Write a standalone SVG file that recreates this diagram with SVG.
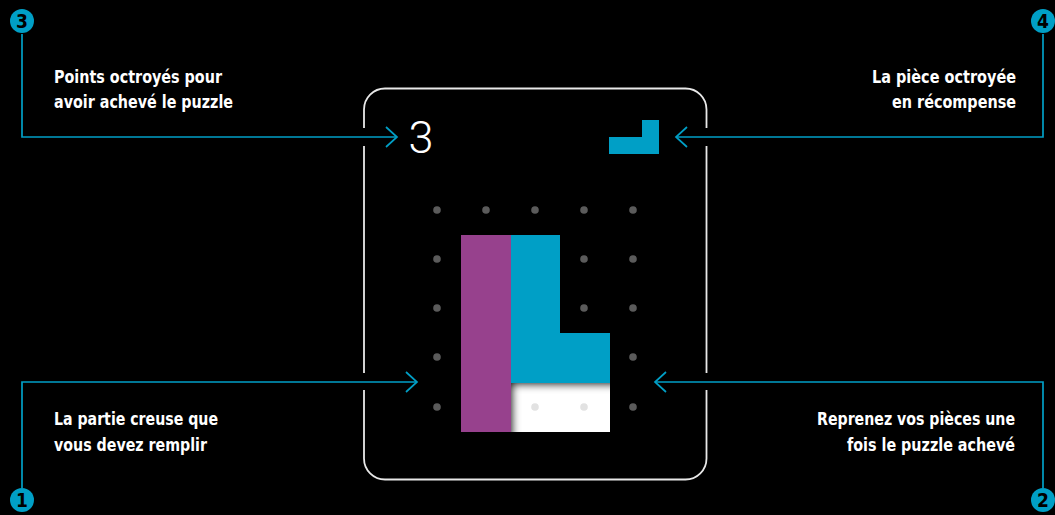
<svg xmlns="http://www.w3.org/2000/svg" width="1055" height="515" viewBox="0 0 1055 515">
  <defs>
    <style>
      .lbl { font-family: "DejaVu Sans Condensed", "DejaVu Sans", "Liberation Sans", sans-serif; font-weight: bold; font-stretch: condensed; font-size: 17.5px; fill: #ffffff; }
      .lead { fill: none; stroke: #009fc6; stroke-width: 1.7; }
      .num { font-family: "DejaVu Sans Condensed", "DejaVu Sans", sans-serif; font-weight: bold; font-size: 19px; fill: #000000; text-anchor: middle; }
      .badge { fill: #009fc6; }
      .dot { fill: #5b5b5b; }
      .ldot { fill: #e2e2e2; }
      .gap { fill: #000000; }
    </style>
    <marker id="chev" viewBox="-13 -12 15 24" refX="0" refY="0" markerWidth="15" markerHeight="24" orient="auto" markerUnits="userSpaceOnUse">
      <path d="M-11,-10 L0,0 L-11,10" fill="none" stroke="#009fc6" stroke-width="1.7"/>
    </marker>
    <clipPath id="holeClip">
      <rect x="511" y="383" width="99" height="49"/>
    </clipPath>
    <filter id="blur" x="-20%" y="-20%" width="140%" height="140%">
      <feGaussianBlur stdDeviation="4"/>
    </filter>
  </defs>

  <rect width="1055" height="515" fill="#000000"/>

  <g id="card">
    <rect x="364" y="88.5" width="342.5" height="391" rx="21" ry="21" fill="none" stroke="#e8e8e8" stroke-width="1.8"/>
    <rect class="gap" x="360" y="128" width="8" height="18"/>
    <rect class="gap" x="703" y="128" width="8" height="18"/>
    <rect class="gap" x="360" y="373" width="8" height="17"/>
    <rect class="gap" x="703" y="373" width="8" height="17"/>
    <text x="421" y="153" font-family="Roboto, 'Open Sans', sans-serif" font-weight="300" font-size="45" fill="#ffffff" text-anchor="middle">3</text>
  </g>

  <g id="reward-piece">
    <polygon points="642,120 659,120 659,154 609,154 609,137 642,137" fill="#009fc6"/>
  </g>

  <g id="grid">
    <circle class="dot" cx="437" cy="210" r="3.8"/>
    <circle class="dot" cx="486" cy="210" r="3.8"/>
    <circle class="dot" cx="535" cy="210" r="3.8"/>
    <circle class="dot" cx="584" cy="210" r="3.8"/>
    <circle class="dot" cx="633" cy="210" r="3.8"/>
    <circle class="dot" cx="437" cy="259" r="3.8"/>
    <circle class="dot" cx="584" cy="259" r="3.8"/>
    <circle class="dot" cx="633" cy="259" r="3.8"/>
    <circle class="dot" cx="437" cy="308" r="3.8"/>
    <circle class="dot" cx="584" cy="308" r="3.8"/>
    <circle class="dot" cx="633" cy="308" r="3.8"/>
    <circle class="dot" cx="437" cy="357" r="3.8"/>
    <circle class="dot" cx="633" cy="357" r="3.8"/>
    <circle class="dot" cx="437" cy="407" r="3.8"/>
    <circle class="dot" cx="633" cy="407" r="3.8"/>
  </g>

  <g id="hole">
    <rect x="511" y="383" width="99" height="49" fill="#ffffff"/>
    <g clip-path="url(#holeClip)">
      <path d="M461,235 L560,235 L560,333 L610,333 L630,333 L630,384 L512,384 L512,440 L461,440 Z" fill="#000000" fill-opacity="0.9" filter="url(#blur)"/>
    </g>
    <circle class="ldot" cx="535" cy="407" r="3.8"/>
    <circle class="ldot" cx="584" cy="407" r="3.8"/>
  </g>

  <g id="purple-piece">
    <rect x="461" y="235" width="50" height="197" fill="#97418d"/>
  </g>

  <g id="blue-piece">
    <polygon points="511,235 560,235 560,333 610,333 610,383 511,383" fill="#009fc6"/>
  </g>

  <g id="connectors">
    <polyline class="lead" points="22,34 22,137 397,137" marker-end="url(#chev)"/>
    <polyline class="lead" points="1043,34 1043,137 676,137" marker-end="url(#chev)"/>
    <polyline class="lead" points="22,488 22,382 417,382" marker-end="url(#chev)"/>
    <polyline class="lead" points="1043,488 1043,382 655,382" marker-end="url(#chev)"/>
  </g>

  <g id="callout-3">
    <circle class="badge" cx="22" cy="21" r="12"/>
    <text class="num" x="22" y="28">3</text>
    <text class="lbl" x="54" y="83" textLength="168" lengthAdjust="spacingAndGlyphs">Points octroyés pour</text>
    <text class="lbl" x="54" y="108" textLength="179" lengthAdjust="spacingAndGlyphs">avoir achevé le puzzle</text>
  </g>

  <g id="callout-4">
    <circle class="badge" cx="1043" cy="21" r="12"/>
    <text class="num" x="1043" y="28">4</text>
    <text class="lbl" x="872" y="83" textLength="144" lengthAdjust="spacingAndGlyphs">La pièce octroyée</text>
    <text class="lbl" x="892" y="108" textLength="124" lengthAdjust="spacingAndGlyphs">en récompense</text>
  </g>

  <g id="callout-1">
    <circle class="badge" cx="22" cy="500" r="12"/>
    <text class="num" x="22" y="507">1</text>
    <text class="lbl" x="54" y="425" textLength="164" lengthAdjust="spacingAndGlyphs">La partie creuse que</text>
    <text class="lbl" x="54" y="451" textLength="153" lengthAdjust="spacingAndGlyphs">vous devez remplir</text>
  </g>

  <g id="callout-2">
    <circle class="badge" cx="1043" cy="500" r="12"/>
    <text class="num" x="1043" y="507">2</text>
    <text class="lbl" x="817" y="425" textLength="198" lengthAdjust="spacingAndGlyphs">Reprenez vos pièces une</text>
    <text class="lbl" x="847" y="451" textLength="168" lengthAdjust="spacingAndGlyphs">fois le puzzle achevé</text>
  </g>
</svg>
